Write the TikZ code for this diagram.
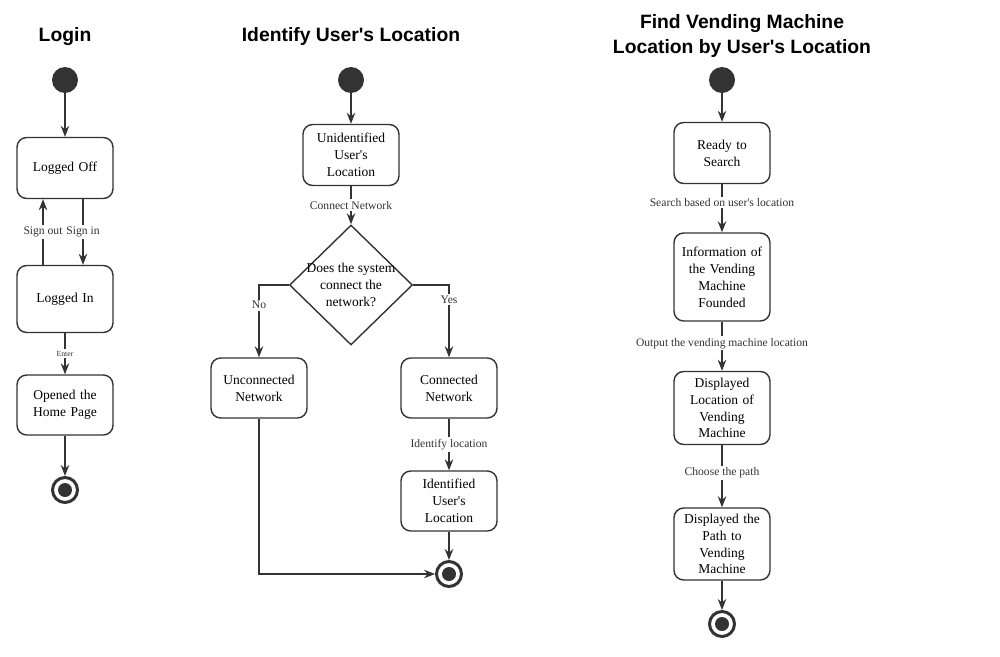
\documentclass[tikz,border=0pt]{standalone}
\usepackage{fontspec}
\setmainfont{Liberation Serif}[Ligatures=TeXOff]
\newfontfamily\titlefont{Liberation Sans}
\usetikzlibrary{arrows.meta,positioning,shapes.geometric}
\definecolor{umlink}{HTML}{333333}
\newcommand\apos{\char39\relax}
\tikzset{
  act/.style={draw=umlink, line width=0.8pt, rounded corners=5.5pt, align=center, text width=1.8cm, minimum width=1.92cm, inner sep=0pt, font=\fontsize{7.7}{9.6}\selectfont},
  dec/.style={draw=umlink, line width=0.8pt, diamond, minimum width=2.46cm, minimum height=2.4cm, inner sep=0pt},
  start/.style={circle, fill=umlink, minimum size=0.52cm, inner sep=0pt},
  stop/.style={circle, draw=umlink, line width=1.7pt, minimum size=0.5cm, inner sep=0pt, path picture={\fill[umlink] (path picture bounding box.center) circle (0.14cm);}},
  lbl/.style={fill=white, inner sep=1pt, font=\fontsize{6.6}{8}\selectfont},
  ttl/.style={font=\titlefont\bfseries\fontsize{11}{14}\selectfont, align=center},
  arr/.style={-{Stealth[length=2.2mm, width=1.7mm]}, line width=0.75pt, color=umlink},
}
\begin{document}
\begin{tikzpicture}[x=0.02cm, y=-0.02cm]
  \useasboundingbox (0,0) rectangle (1000,656);
  % Login
  \node[ttl] (t1) at (65,37) {Login};
  \node[start] (s1) at (65,80) {};
  \node[act, minimum height=1.22cm] (lo) at (65,168) {Logged Off};
  \node[act, minimum height=1.34cm] (li) at (65,299) {Logged In};
  \node[act, minimum height=1.2cm] (hp) at (65,405) {Opened the\\Home Page};
  \node[stop] (e1) at (65,490) {};
  \draw[arr] (s1) -- (lo);
  \draw[arr] ([xshift=0.36cm]lo.south) -- node[lbl]{Sign in} ([xshift=0.36cm]li.north);
  \draw[arr] ([xshift=-0.44cm]li.north) -- node[lbl]{Sign out} ([xshift=-0.44cm]lo.south);
  \draw[arr] (li) -- node[lbl, font=\fontsize{4.4}{5}\selectfont]{Enter} (hp);
  \draw[arr] (hp) -- (e1);
  % Identify User's Location
  \node[ttl] (t2) at (351,37) {Identify User\apos s Location};
  \node[start] (s2) at (351,80) {};
  \node[act, minimum height=1.22cm] (uu) at (351,155) {Unidentified\\User\apos s\\Location};
  \node[dec, label={[font=\fontsize{7.7}{9.6}\selectfont, align=center]center:Does the system\\connect the\\network?}] (dn) at (351,285) {};
  \node[act, minimum height=1.2cm] (un) at (259,388) {Unconnected\\Network};
  \node[act, minimum height=1.2cm] (cn) at (449,388) {Connected\\Network};
  \node[act, minimum height=1.2cm] (iu) at (449,501) {Identified\\User\apos s\\Location};
  \node[stop] (e2) at (449,574) {};
  \draw[arr] (s2) -- (uu);
  \draw[arr] (uu) -- node[lbl]{Connect Network} (dn);
  \draw[arr] (dn.west) -| node[lbl, pos=0.64]{No} (un.north);
  \draw[arr] (dn.east) -| node[lbl, pos=0.6]{Yes} (cn.north);
  \draw[arr] (cn) -- node[lbl]{Identify location} (iu);
  \draw[arr] (iu) -- (e2);
  \draw[arr] (un.south) |- (e2);
  % Find Vending Machine Location by User's Location
  \node[ttl] (t3) at (742,36) {Find Vending Machine\\Location by User\apos s Location};
  \node[start] (s3) at (722,80) {};
  \node[act, minimum height=1.22cm] (rs) at (722,153) {Ready to\\Search};
  \node[act, minimum height=1.76cm] (iv) at (722,277) {Information of\\the Vending\\Machine\\Founded};
  \node[act, minimum height=1.46cm] (dl) at (722,408) {Displayed\\Location of\\Vending\\Machine};
  \node[act, minimum height=1.44cm] (dp) at (722,544) {Displayed the\\Path to\\Vending\\Machine};
  \node[stop] (e3) at (722,624) {};
  \draw[arr] (s3) -- (rs);
  \draw[arr] (rs) -- node[lbl, pos=0.38]{Search based on user\apos s location} (iv);
  \draw[arr] (iv) -- node[lbl, pos=0.44]{Output the vending machine location} (dl);
  \draw[arr] (dl) -- node[lbl, pos=0.45]{Choose the path} (dp);
  \draw[arr] (dp) -- (e3);
\end{tikzpicture}
\end{document}
